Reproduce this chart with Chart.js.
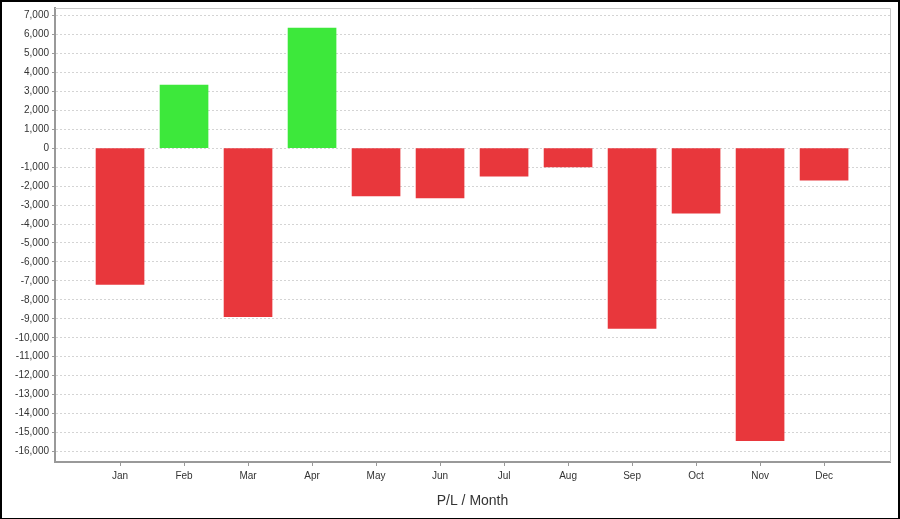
<!DOCTYPE html>
<html>
<head>
<meta charset="utf-8">
<script src="https://cdn.jsdelivr.net/npm/chart.js@4"></script>
<style>
  html, body { margin: 0; padding: 0; background: #fff; }
  #wrap {
    width: 900px; height: 519px; box-sizing: border-box;
    border-style: solid; border-color: #000;
    border-width: 2px 2px 1px 2px; background: #fff;
  }
  #wrap canvas { display: block; }
</style>
</head>
<body>
<div id="wrap"><canvas id="myChart" width="896" height="516"></canvas></div>
<script>
// Months and P/L per month
const months = ['Jan', 'Feb', 'Mar', 'Apr', 'May', 'Jun', 'Jul', 'Aug', 'Sep', 'Oct', 'Nov', 'Dec'];
const profitLoss = [-7180, 3330, -8890, 6330, -2520, -2620, -1480, -990, -9500, -3430, -15420, -1690];

const red = '#e8373c';
const green = '#3de83b';

// Build the points (x = month index)
var points = [];
for (var i = 0; i < months.length; i++) {
  points.push({ x: i, y: profitLoss[i] });
}

const data = {
  datasets: [{
    label: 'P/L',
    data: points,
    backgroundColor: profitLoss.map(v => v >= 0 ? green : red),
    borderWidth: 0,
    barThickness: 48
  }]
};

const config = {
  type: 'bar',
  data: data,
  options: {
    responsive: false,
    animation: false,
    layout: { padding: { left: 0, top: 6, right: 8, bottom: 0 } },
    plugins: {
      legend: { display: false },
      tooltip: { enabled: false }
    },
    scales: {
      x: {
        type: 'linear',
        offset: false,
        min: -1.016,
        max: 12.03,
        afterBuildTicks: function (scale) {
          scale.ticks = months.map((m, i) => ({ value: i }));
        },
        afterFit: function (scale) {
          scale.height = 56;
          scale.paddingLeft = 0;
          scale.paddingRight = 0;
        },
        ticks: {
          autoSkip: false,
          maxRotation: 0,
          padding: 4,
          color: '#333',
          font: { family: 'Liberation Sans, Arial', size: 10 },
          callback: function (v) { return months[v]; }
        },
        grid: {
          offset: false,
          drawOnChartArea: false,
          drawTicks: true,
          tickLength: 4,
          tickColor: '#999'
        },
        border: { display: true, color: '#999', width: 2 },
        title: {
          display: true,
          text: 'P/L / Month',
          color: '#333',
          font: { family: 'Liberation Sans, Arial', size: 14 },
          padding: { top: 4, bottom: 8 }
        }
      },
      y: {
        min: -16550,
        max: 7390,
        afterBuildTicks: function (scale) {
          var t = [];
          for (var v = -16000; v <= 7000; v += 1000) t.push({ value: v });
          scale.ticks = t;
        },
        afterFit: function (scale) {
          scale.width = 53;
          scale.paddingTop = 0;
          scale.paddingBottom = 0;
        },
        ticks: {
          padding: 3,
          color: '#333',
          font: { family: 'Liberation Sans, Arial', size: 10 },
          callback: function (v) { return v.toLocaleString('en-US'); }
        },
        grid: {
          color: '#d4d4d4',
          lineWidth: 1,
          drawTicks: true,
          tickLength: 3,
          tickColor: '#999',
          tickBorderDash: []
        },
        border: { display: true, color: '#999', width: 2, dash: [2, 2] }
      }
    }
  },
  plugins: [{
    id: 'frame',
    afterDraw: function (chart) {
      var a = chart.chartArea, ctx = chart.ctx;
      ctx.save();
      ctx.strokeStyle = '#c8c8c8';
      ctx.lineWidth = 1;
      ctx.beginPath();
      ctx.moveTo(a.left, a.top + 0.5);
      ctx.lineTo(a.right + 0.5, a.top + 0.5);
      ctx.lineTo(a.right + 0.5, a.bottom);
      ctx.stroke();
      ctx.restore();
    }
  }]
};

var ctx = document.getElementById('myChart').getContext('2d');
var myChart = new Chart(ctx, config);
</script>
</body>
</html>
